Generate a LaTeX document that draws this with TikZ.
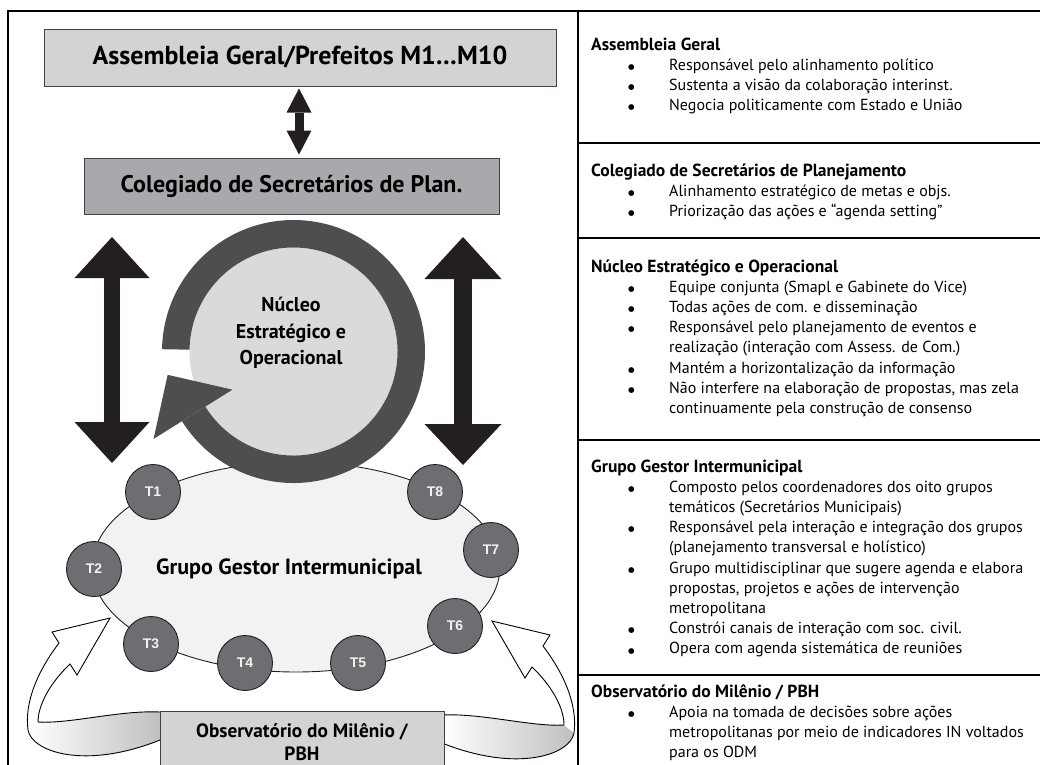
\documentclass[tikz,border=0pt]{standalone}
\usepackage{fontspec}
\setmainfont{PT Sans}
\newfontfamily\tlabelfont{Liberation Sans}
\newfontfamily\dotfont{DejaVu Sans}
\usetikzlibrary{arrows.meta,calc,shapes.geometric}

\definecolor{boxlight}{HTML}{D1D3D4}
\definecolor{boxmid}{HTML}{A7A9AC}
\definecolor{ringgray}{HTML}{4D4E50}
\definecolor{discgray}{HTML}{D9DADC}
\definecolor{ellfill}{HTML}{F1F2F2}
\definecolor{tgray}{HTML}{6D6E71}
\definecolor{inkblack}{HTML}{231F20}
\definecolor{edgegray}{HTML}{414042}
\definecolor{bandgray}{HTML}{BFC0C2}

% one line of a bulleted description
\newcommand{\smallbullet}{\raisebox{0.8pt}{\dotfont\fontsize{7.5}{7.5}\selectfont ●}}
\newcommand{\infoitem}[1]{{\leftskip=78pt\noindent\llap{\makebox[41pt][l]{\smallbullet}}#1\par}}
\newcommand{\infohead}[1]{\noindent{\fontsize{17.5}{20.2}\selectfont\textbf{#1}}\par}
\newenvironment{infoblock}{\begin{minipage}[t]{600pt}\raggedright\setlength{\parindent}{0pt}\fontsize{16}{20.2}\selectfont}{\end{minipage}}

\begin{document}
\begin{tikzpicture}[x=1pt,y=-1pt,
  govbox/.style={draw=edgegray, line width=1pt, inner sep=0pt, align=center},
  tnode/.style={circle, draw=inkblack, line width=0.9pt, fill=tgray, minimum size=55pt,
    inner sep=0pt, text=ellfill, font=\tlabelfont\bfseries\fontsize{14}{14}\selectfont},
  info/.style={anchor=base west, inner sep=0pt},
  fatarrow/.style={draw=inkblack},
  rule/.style={line width=1.2pt, draw=black},
  ribbon/.pic={
    % hollow twisted arrow rising from the observatory box
    \fill[white] (160,712) .. controls (120,710) and (70,724) .. (38,722)
      .. controls (38,705) and (50,683) .. (70,664)
      -- (77,675) -- (110,618) -- (52,632) -- (59,643)
      .. controls (40,668) and (24,700) .. (28,730)
      .. controls (32,752) and (85,770) .. (160,740) -- cycle;
    \shade[left color=white, right color=bandgray]
      (160,712) .. controls (120,710) and (70,724) .. (38,722)
      -- (28,730) .. controls (32,752) and (85,770) .. (160,740) -- cycle;
    \draw[line width=0.9pt, line join=miter]
      (160,712) .. controls (120,710) and (70,724) .. (38,722)
      .. controls (38,705) and (50,683) .. (70,664)
      -- (77,675) -- (110,618) -- (52,632) -- (59,643)
      .. controls (40,668) and (24,700) .. (28,730)
      .. controls (32,752) and (85,770) .. (160,740);
  }
]
\useasboundingbox (0,0) rectangle (1040,764);
\clip (0,0) rectangle (1040,764);

% table frame and dividers
\draw[rule] (8,11) rectangle (1041,800);
\draw[rule] (578,11) -- (578,800);
\foreach \yy in {143,238,440,675} \draw[rule] (578,\yy) -- (1041,\yy);

% governance boxes
\node[govbox, fill=boxlight, minimum width=512pt, minimum height=57pt,
  font=\bfseries\fontsize{26}{30}\selectfont] (asm) at (300,57.5)
  {Assembleia Geral/Prefeitos M1…M10};
\node[govbox, fill=boxmid, minimum width=415pt, minimum height=56pt,
  font=\bfseries\fontsize{24}{28}\selectfont] (col) at (291.5,186)
  {Colegiado de Secretários de Plan.};

\coordinate (ax) at (299,0);
\draw[fatarrow, line width=9pt,
  {Triangle[width=25pt,length=24pt,line width=0pt]}-{Triangle[width=25pt,length=24pt,line width=0pt]}]
  ($(asm.south -| ax)+(0,2)$) -- ($(col.north -| ax)+(0,-3)$);

% intermunicipal group
\node[ellipse, draw=inkblack, line width=0.9pt, fill=ellfill, minimum width=408pt,
  minimum height=210pt, inner sep=0pt] (grp) at (296,567) {};
\node[font=\bfseries\fontsize{22}{26}\selectfont] (grptext) at (289,569) {Grupo Gestor Intermunicipal};

% side double arrows
\coordinate (ltop) at (112,237);
\coordinate (lbot) at (112,463);
\coordinate (rtop) at (463,237);
\coordinate (rbot) at (463,465);
\draw[fatarrow, line width=16pt,
  {Triangle[width=75pt,length=41pt,line width=0pt]}-{Triangle[width=75pt,length=41pt,line width=0pt]}]
  (ltop) -- (lbot);
\draw[fatarrow, line width=18pt,
  {Triangle[width=77pt,length=42pt,line width=0pt]}-{Triangle[width=77pt,length=41pt,line width=0pt]}]
  (rtop) -- (rbot);

% strategic core: disc with circular arrow
\coordinate (ctr) at (293.5,351.5);
\node[circle, fill=discgray, minimum size=208pt, inner sep=0pt] (nuc) at (ctr) {};
\fill[ringgray] ($(ctr)+(181:131.5)$) arc[start angle=181, end angle=508, radius=131.5]
  -- ($(ctr)+(148:104)$) arc[start angle=508, end angle=181, radius=104] -- cycle;
\fill[ringgray] ($(ctr)+(148:72)$) -- ($(ctr)+(169.5:128)$) -- ($(ctr)+(148:165)$) -- cycle;
\node[font=\bfseries\fontsize{20}{26.7}\selectfont, align=center] (nuctext) at (291,333)
  {Núcleo\\Estratégico e\\Operacional};

% thematic groups
\node[tnode] (t1) at (153,492) {T1};
\node[tnode] (t2) at (94,569) {T2};
\node[tnode] (t3) at (151,644) {T3};
\node[tnode] (t4) at (245,663) {T4};
\node[tnode] (t5) at (358,663) {T5};
\node[tnode] (t6) at (455,626) {T6};
\node[tnode] (t7) at (491,550) {T7};
\node[tnode] (t8) at (435,492) {T8};

% observatory with its two feedback ribbons
\pic at (0,0) {ribbon};
\pic[xscale=-1] at (602,3) {ribbon};
\node[govbox, fill=boxlight, minimum width=284pt, minimum height=62pt,
  font=\bfseries\fontsize{19.3}{23.5}\selectfont] (obs) at (302,742)
  {Observatório do Milênio /\\PBH};

% descriptions
\node[info] (infoA) at (591,50) {\begin{infoblock}
\infohead{Assembleia Geral}
\infoitem{Responsável pelo alinhamento político}
\infoitem{Sustenta a visão da colaboração interinst.}
\infoitem{Negocia politicamente com Estado e União}
\end{infoblock}};
\node[info] (infoB) at (591,176) {\begin{infoblock}
\infohead{Colegiado de Secretários de Planejamento}
\infoitem{Alinhamento estratégico de metas e objs.}
\infoitem{Priorização das ações e “agenda setting”}
\end{infoblock}};
\node[info] (infoC) at (591,272) {\begin{infoblock}
\infohead{Núcleo Estratégico e Operacional}
\infoitem{Equipe conjunta (Smapl e Gabinete do Vice)}
\infoitem{Todas ações de com. e disseminação}
\infoitem{Responsável pelo planejamento de eventos e\newline realização (interação com Assess. de Com.)}
\infoitem{Mantém a horizontalização da informação}
\infoitem{Não interfere na elaboração de propostas, mas zela\newline continuamente pela construção de consenso}
\end{infoblock}};
\node[info] (infoD) at (591,472) {\begin{infoblock}
\infohead{Grupo Gestor Intermunicipal}
\infoitem{Composto pelos coordenadores dos oito grupos\newline temáticos (Secretários Municipais)}
\infoitem{Responsável pela interação e integração dos grupos\newline (planejamento transversal e holístico)}
\infoitem{Grupo multidisciplinar que sugere agenda e elabora\newline propostas, projetos e ações de intervenção\newline metropolitana}
\infoitem{Constrói canais de interação com soc. civil.}
\infoitem{Opera com agenda sistemática de reuniões}
\end{infoblock}};
\node[info] (infoE) at (591,697) {\begin{infoblock}
\infohead{Observatório do Milênio / PBH}
\infoitem{Apoia na tomada de decisões sobre ações\newline metropolitanas por meio de indicadores IN voltados\newline para os ODM}
\end{infoblock}};
\end{tikzpicture}
\end{document}
